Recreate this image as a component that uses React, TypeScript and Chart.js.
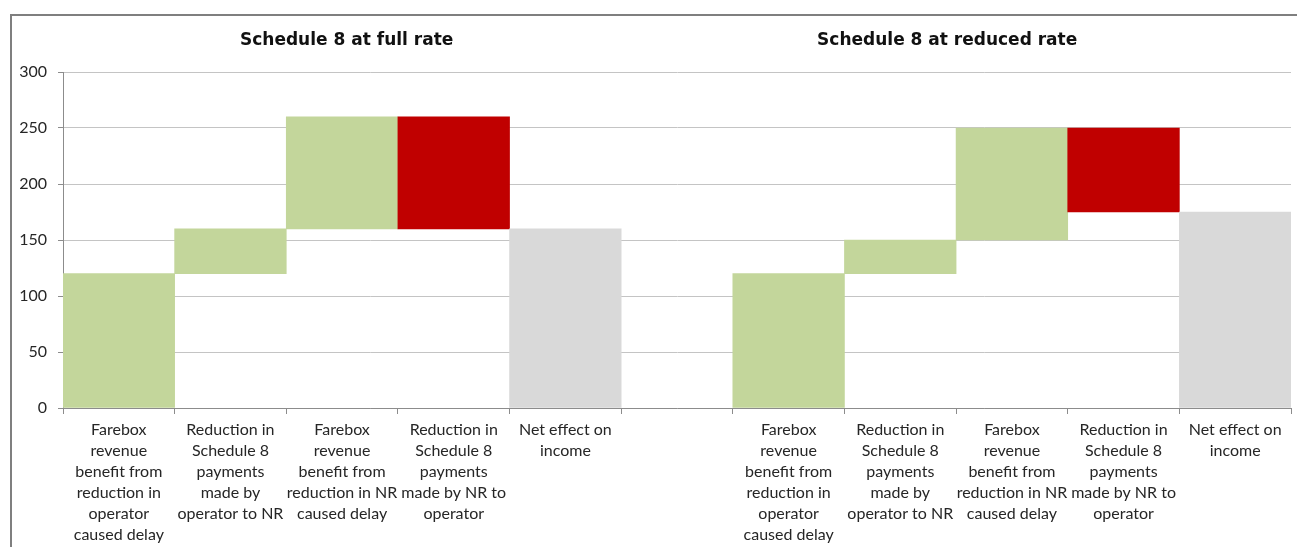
import React, { useEffect, useRef } from 'react';
import { Chart, registerables } from 'chart.js';

Chart.register(...registerables);

// ---- data ----
const categories: string[][] = [
  ['Farebox', 'revenue', 'benefit from', 'reduction in', 'operator', 'caused delay'],
  ['Reduction in', 'Schedule 8', 'payments', 'made by', 'operator to NR'],
  ['Farebox', 'revenue', 'benefit from', 'reduction in NR', 'caused delay'],
  ['Reduction in', 'Schedule 8', 'payments', 'made by NR to', 'operator'],
  ['Net effect on', 'income'],
  [''],
  ['Farebox', 'revenue', 'benefit from', 'reduction in', 'operator', 'caused delay'],
  ['Reduction in', 'Schedule 8', 'payments', 'made by', 'operator to NR'],
  ['Farebox', 'revenue', 'benefit from', 'reduction in NR', 'caused delay'],
  ['Reduction in', 'Schedule 8', 'payments', 'made by NR to', 'operator'],
  ['Net effect on', 'income'],
];
const barStart: (number | null)[] = [0, 120, 160, 160, 0, null, 0, 120, 150, 175, 0];
const barEnd: (number | null)[] = [120, 160, 260, 260, 160, null, 120, 150, 250, 250, 175];
const barKind: string[] = ['gain', 'gain', 'gain', 'loss', 'net', 'none', 'gain', 'gain', 'gain', 'loss', 'net'];
const panelTitles: string[] = ['Schedule 8 at full rate', 'Schedule 8 at reduced rate'];
const yMin = 0;
const yMax = 300;
const yStep = 50;

// ---- styles ----
const kindColor: Record<string, string> = {
  gain: '#C3D69B',
  loss: '#C00000',
  net: '#D9D9D9',
  none: 'rgba(0,0,0,0)',
};
const TEXT = '#262626';
const AXIS = '#8c8c8c';
const GRID = '#c4c4c4';

const framePlugin = {
  id: 'frame',
  beforeDraw(chart: any) {
    const ctx = chart.ctx;
    ctx.save();
    ctx.strokeStyle = '#7f7f7f';
    ctx.lineWidth = 2;
    ctx.beginPath();
    ctx.moveTo(11, chart.height + 5);
    ctx.lineTo(11, 15);
    ctx.lineTo(chart.width + 5, 15);
    ctx.stroke();
    ctx.restore();
  },
};

const titlePlugin = {
  id: 'panelTitles',
  afterDraw(chart: any) {
    const { ctx, chartArea } = chart;
    const w = chartArea.right - chartArea.left;
    const fr = [0.231, 0.72];
    ctx.save();
    ctx.fillStyle = '#111';
    ctx.font = 'bold 17px "DejaVu Sans"';
    ctx.textAlign = 'center';
    ctx.textBaseline = 'middle';
    panelTitles.forEach((t, i) => {
      ctx.fillText(t, chartArea.left + fr[i] * w, 41);
    });
    ctx.restore();
  },
};

export default function App() {
  const ref = useRef<HTMLCanvasElement | null>(null);

  useEffect(() => {
    if (!ref.current) return;
    const chart = new Chart(ref.current, {
      type: 'bar',
      data: {
        labels: categories,
        datasets: [
          {
            data: barStart.map((s, i) => (s === null || barEnd[i] === null ? null : [s, barEnd[i] as number])) as any,
            backgroundColor: barKind.map((k) => kindColor[k]),
            borderWidth: 0,
            categoryPercentage: 1,
            barPercentage: 1,
          },
        ],
      },
      options: {
        responsive: false,
        animation: false,
        devicePixelRatio: 1,
        layout: { padding: { top: 72, right: 6, left: 0, bottom: 0 } },
        plugins: {
          legend: { display: false },
          tooltip: { enabled: false },
          title: { display: false },
        },
        scales: {
          x: {
            offset: true,
            grid: {
              offset: true,
              drawOnChartArea: false,
              drawTicks: true,
              tickLength: 6,
              tickColor: AXIS,
            },
            border: { display: true, color: AXIS, width: 1 },
            ticks: {
              autoSkip: false,
              maxRotation: 0,
              minRotation: 0,
              padding: 5,
              color: TEXT,
              font: { family: 'Lato', size: 16, lineHeight: '21px' },
            },
            afterFit(scale: any) {
              scale.height = 139;
            },
          },
          y: {
            min: yMin,
            max: yMax,
            ticks: {
              stepSize: yStep,
              padding: 11,
              color: TEXT,
              font: { family: 'Lato', size: 16 },
            },
            grid: {
              color: GRID,
              tickColor: AXIS,
              tickLength: 5,
            },
            border: { display: true, color: AXIS, width: 1 },
            afterFit(scale: any) {
              scale.width = 63;
            },
          },
        },
      },
      plugins: [framePlugin, titlePlugin],
    });
    return () => chart.destroy();
  }, []);

  return (
    <div style={{ position: 'absolute', left: 0, top: 0, width: 1297, height: 547, background: '#fff' }}>
      <canvas ref={ref} width={1297} height={547} style={{ display: 'block', width: 1297, height: 547 }} />
    </div>
  );
}
